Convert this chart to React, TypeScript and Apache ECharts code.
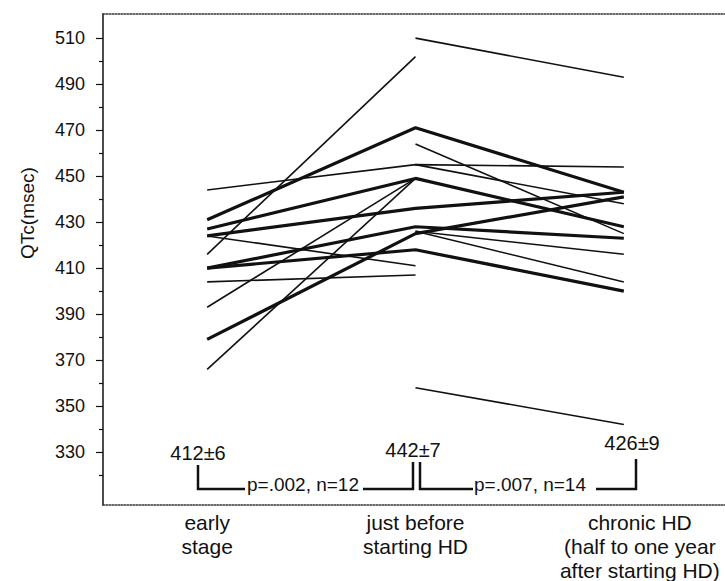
import React, { useEffect, useRef } from "react";
import * as echarts from "echarts";

const categories = [
  "early\nstage",
  "just before\nstarting HD",
  "chronic HD\n(half to one year\nafter starting HD)",
];
// one entry per patient (null = not measured at that stage)
const earlyStage = [444, 431, 427, 424, 424, 416, 410, 410, 404, 393, 379, 366, null, null, null, null, null, null];
const justBeforeHD = [455, 471, 449, 436, 411, 502, 428, 418, 407, 449, 425, 449, 510, 464, 455, 426, 426, 358];
const chronicHD = [454, 443, 428, 443, null, null, 423, 400, null, null, 441, null, 493, 425, 438, 416, 404, 342];
const boldSubjects = [1, 2, 3, 6, 7, 10];

const yTickLabels = [330, 350, 370, 390, 410, 430, 450, 470, 490, 510];
const yMinorTicks = [320, 340, 360, 380, 400, 420, 440, 460, 480, 500];
const groupMeans = ["412\u00b16", "442\u00b17", "426\u00b19"];
const comparisons = ["p=.002, n=12", "p=.007, n=14"];

const FONT = "'Liberation Sans', Arial, sans-serif";
const INK = "#111";

export default function App() {
  const ref = useRef<HTMLDivElement>(null);
  useEffect(() => {
    if (!ref.current) return;
    const chart = echarts.init(ref.current, undefined, { renderer: "svg" });
    const series = earlyStage.map((_, i) => ({
      type: "line",
      xAxisIndex: 0,
      yAxisIndex: 0,
      data: [earlyStage[i], justBeforeHD[i], chronicHD[i]],
      symbol: "none",
      connectNulls: false,
      silent: true,
      lineStyle: { color: INK, width: boldSubjects.includes(i) ? 3.2 : 1.6 },
    }));
    const yMin = 307;
    const yMax = 520.5;
    const bracket = { stroke: INK, lineWidth: 2.5, fill: "none" };
    chart.setOption({
      animation: false,
      grid: { left: 103, right: -3, top: 14, bottom: 76, outerBoundsMode: "none" },
      xAxis: [
        {
          type: "category",
          data: [
            categories[0],
            categories[1],
            { value: categories[2], textStyle: { padding: [0, 0, 0, 32] } },
          ],
          boundaryGap: true,
          axisLine: { lineStyle: { color: "#333", width: 1.5, type: "dotted" } },
          axisTick: { inside: true, length: 4, alignWithLabel: true, lineStyle: { color: "#333", width: 1.2 } },
          axisLabel: { interval: 0, margin: 5, fontFamily: FONT, fontSize: 21, lineHeight: 24, color: INK },
          splitLine: { show: false },
        },
        {
          type: "category",
          position: "top",
          data: categories,
          axisLine: { lineStyle: { color: "#333", width: 1.5, type: "dotted" } },
          axisTick: { show: false },
          axisLabel: { show: false },
        },
      ],
      yAxis: [
        {
          type: "value",
          min: yMin,
          max: yMax,
          position: "left",
          name: "QTc(msec)",
          nameLocation: "middle",
          nameGap: 66,
          nameTextStyle: { fontFamily: FONT, fontSize: 19, color: INK, padding: [0, 0, 0, 93] },
          axisLine: { show: true, lineStyle: { color: INK, width: 1.5 } },
          axisTick: { show: true, length: 7, customValues: yTickLabels, lineStyle: { color: INK, width: 1.2 } },
          axisLabel: { customValues: yTickLabels, margin: 18, fontFamily: FONT, fontSize: 18, color: INK },
          splitLine: { show: false },
        },
        {
          type: "value",
          min: yMin,
          max: yMax,
          position: "left",
          axisLine: { show: false },
          axisTick: { show: true, length: 4, customValues: yMinorTicks, lineStyle: { color: INK, width: 1.2 } },
          axisLabel: { show: false },
          splitLine: { show: false },
        },
      ],
      series,
      graphic: [
        { type: "text", x: 198, y: 453, style: { text: groupMeans[0], font: `20px ${FONT}`, fill: INK, align: "center", verticalAlign: "middle" } },
        { type: "text", x: 413, y: 450, style: { text: groupMeans[1], font: `20px ${FONT}`, fill: INK, align: "center", verticalAlign: "middle" } },
        { type: "text", x: 632, y: 443, style: { text: groupMeans[2], font: `20px ${FONT}`, fill: INK, align: "center", verticalAlign: "middle" } },
        { type: "text", x: 247, y: 484, style: { text: comparisons[0], font: `19px ${FONT}`, fill: INK, align: "left", verticalAlign: "middle" } },
        { type: "text", x: 474, y: 484, style: { text: comparisons[1], font: `19px ${FONT}`, fill: INK, align: "left", verticalAlign: "middle" } },
        { type: "polyline", shape: { points: [[198, 465], [198, 489], [245, 489]] }, style: bracket },
        { type: "polyline", shape: { points: [[363, 489], [413, 489], [413, 462]] }, style: bracket },
        { type: "polyline", shape: { points: [[420, 462], [420, 489], [473, 489]] }, style: bracket },
        { type: "polyline", shape: { points: [[596, 489], [636, 489], [636, 459]] }, style: bracket },
      ],
    });
    return () => chart.dispose();
  }, []);
  return <div ref={ref} style={{ width: 725, height: 581, position: "absolute", left: 0, top: 0 }} />;
}
